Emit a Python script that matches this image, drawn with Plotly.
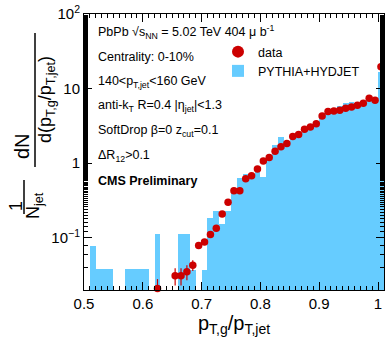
import plotly.graph_objects as go

# ---- data ----
data_x = [0.625, 0.655, 0.665, 0.675, 0.685, 0.695, 0.705, 0.715, 0.725, 0.735,
          0.745, 0.755, 0.765, 0.775, 0.785, 0.795, 0.805, 0.815, 0.825, 0.835,
          0.845, 0.855, 0.865, 0.875, 0.885, 0.895, 0.905, 0.915, 0.925, 0.935,
          0.945, 0.955, 0.965, 0.975, 0.985, 0.995, 1.005]
data_y = [0.021, 0.031, 0.031, 0.035, 0.043, 0.079, 0.088, 0.111, 0.134, 0.208,
          0.30, 0.427, 0.427, 0.62, 0.68, 0.84, 1.07, 1.19, 1.45, 1.66,
          1.84, 2.28, 2.42, 2.86, 3.07, 3.37, 4.31, 4.92, 5.02, 5.13,
          5.47, 5.69, 6.0, 6.37, 7.43, 7.0, 19.7]
data_err = [0.007, 0.008, 0.008, 0.008, 0.007, 0.008, 0.008, 0.009, 0.010, 0.012,
            0.015, 0.018, 0.018, 0.022, 0.024, 0.027, 0.03, 0.032, 0.036, 0.04,
            0.042, 0.05, 0.05, 0.055, 0.06, 0.062, 0.07, 0.075, 0.076, 0.077,
            0.08, 0.082, 0.085, 0.088, 0.095, 0.092, 0.16]

mc_x = [0.505, 0.515, 0.525, 0.535, 0.545, 0.555, 0.565, 0.575, 0.585, 0.595,
        0.605, 0.615, 0.625, 0.635, 0.645, 0.655, 0.665, 0.675, 0.685, 0.695,
        0.705, 0.715, 0.725, 0.735, 0.745, 0.755, 0.765, 0.775, 0.785, 0.795,
        0.805, 0.815, 0.825, 0.835, 0.845, 0.855, 0.865, 0.875, 0.885, 0.895,
        0.905, 0.915, 0.925, 0.935, 0.945, 0.955, 0.965, 0.975, 0.985, 0.995,
        1.005]
mc_y = [None, 0.077, 0.038, 0.038, 0.038, None, None, 0.038, 0.038, 0.038,
        0.038, None, 0.112, None, None, None, 0.112, 0.112, 0.037, None,
        0.037, 0.187, 0.228, 0.155, 0.228, 0.405, 0.63, 0.71, 0.72, 0.76,
        0.66, 1.23, 1.73, 2.27, 1.95, 2.2, 2.5, 2.9, 3.1, 3.4,
        4.0, 4.9, 5.4, 5.9, 6.4, 6.7, 6.5, 6.5, 6.9, 6.9,
        16.9]
bin_width = 0.01

x_ticks = [0.5, 0.6, 0.7, 0.8, 0.9, 1.0]
x_tick_text = ["0.5", "0.6", "0.7", "0.8", "0.9", "1"]
y_ticks = [0.1, 1, 10, 100]
y_tick_text = ["10<sup>\u22121</sup>", "1", "10", "10<sup>2</sup>"]

info_lines = [
    "PbPb \u221As<sub>NN</sub> = 5.02 TeV 404 \u03bc b<sup>-1</sup>",
    "Centrality: 0-10%",
    "140<p<sub>T,jet</sub><160 GeV",
    "anti-k<sub>T</sub> R=0.4 |\u03b7<sub>jet</sub>|<1.3",
    "SoftDrop \u03b2=0 z<sub>cut</sub>=0.1",
    "\u0394R<sub>12</sub>>0.1",
    "<b>CMS Preliminary</b>",
]

W, H = 386, 338
L, R, T, B = 84, 2, 14, 48
PW, PH = W - L - R, H - T - B

def px(xp):
    return (xp - L) / PW

def py(yp):
    return (H - B - yp) / PH

FONT = "Liberation Sans, Arial, Helvetica, sans-serif"
RED = "#cc0000"
BLUE = "#66ccff"

fig = go.Figure()
fig.add_trace(go.Bar(
    x=mc_x, y=mc_y, width=bin_width, name="PYTHIA+HYDJET",
    marker=dict(color=BLUE, line=dict(width=0)), legendrank=2,
))
fig.add_trace(go.Scatter(
    x=data_x, y=data_y, mode="markers", name="data",
    marker=dict(color=RED, size=7.5, symbol="circle"),
    error_y=dict(type="data", array=data_err, color=RED, thickness=1.2, width=0),
    cliponaxis=False, legendrank=1,
))

annotations = []
for i, t in enumerate(info_lines):
    annotations.append(dict(
        x=px(96), y=py(32 + i * 24.8), xref="paper", yref="paper",
        text=t, showarrow=False, xanchor="left", yanchor="middle",
        font=dict(size=12.5, color="black", family=FONT)))

# y-axis title built as two stacked fractions
tf = dict(size=18, color="black", family=FONT)
annotations += [
    dict(x=px(16), y=py(206), xref="paper", yref="paper", text="1",
         showarrow=False, textangle=-90, font=tf, xanchor="center", yanchor="middle"),
    dict(x=px(34), y=py(206), xref="paper", yref="paper", text="N<sub>jet</sub>",
         showarrow=False, textangle=-90, font=tf, xanchor="center", yanchor="middle"),
    dict(x=px(22), y=py(146), xref="paper", yref="paper", text="dN",
         showarrow=False, textangle=-90, font=dict(size=20, color="black", family=FONT),
         xanchor="center", yanchor="middle"),
    dict(x=px(46), y=py(100), xref="paper", yref="paper",
         text="d(p<sub>T,g</sub>/p<sub>T,jet</sub>)",
         showarrow=False, textangle=-90, font=tf, xanchor="center", yanchor="middle"),
]
shapes = [
    dict(type="line", xref="paper", yref="paper", x0=px(24), x1=px(24),
         y0=py(214), y1=py(180), line=dict(color="black", width=1.5)),
    dict(type="line", xref="paper", yref="paper", x0=px(35), x1=px(35),
         y0=py(167), y1=py(33), line=dict(color="black", width=1.5)),
]

fig.update_layout(
    width=W, height=H, margin=dict(l=L, r=R, t=T, b=B),
    paper_bgcolor="white", plot_bgcolor="white",
    font=dict(family=FONT, color="black"),
    bargap=0, barmode="overlay", showlegend=True,
    legend=dict(x=px(218), y=py(37), xref="paper", yref="paper",
                xanchor="left", yanchor="top", bgcolor="rgba(0,0,0,0)",
                font=dict(size=12.5, family=FONT), traceorder="normal",
                tracegroupgap=5, itemsizing="constant"),
    annotations=annotations, shapes=shapes,
    xaxis=dict(range=[0.5, 1.0102], tickvals=x_ticks, ticktext=x_tick_text,
               showgrid=False, zeroline=False, showline=True, linecolor="black",
               linewidth=1, mirror="allticks", ticks="inside", ticklen=8,
               tickcolor="black", tickfont=dict(size=15, family=FONT),
               minor=dict(dtick=0.01, ticks="inside", ticklen=4, tickcolor="black",
                          showgrid=False),
               title=dict(text="p<sub>T,g</sub>/p<sub>T,jet</sub>",
                          font=dict(size=20, family=FONT), standoff=4)),
    yaxis=dict(type="log", range=[-1.699, 2], tickvals=y_ticks, ticktext=y_tick_text,
               showgrid=False, zeroline=False, showline=True, linecolor="black",
               linewidth=1, mirror="allticks", ticks="inside", ticklen=8,
               tickcolor="black", tickfont=dict(size=15, family=FONT),
               minor=dict(ticks="inside", ticklen=4, tickcolor="black",
                          showgrid=False)),
)

fig.write_html("out.html")
